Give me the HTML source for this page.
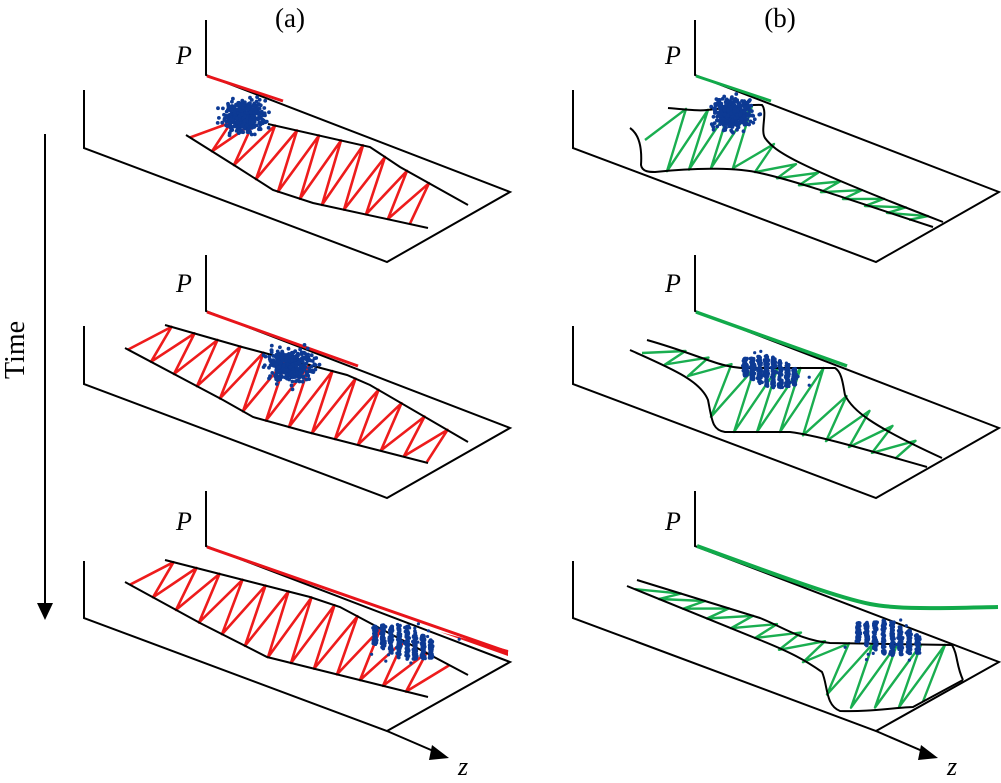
<!DOCTYPE html>
<html><head><meta charset="utf-8"><style>
html,body{margin:0;padding:0;background:#fff;}
svg{display:block}
text{font-family:"Liberation Serif",serif;fill:#000}
</style></head><body>
<svg id="s" width="1001" height="783" viewBox="0 0 1001 783" xmlns="http://www.w3.org/2000/svg">
<g fill="none" stroke="#000" stroke-width="2">
<path d="M206,20 V75 L510,192 L387,262 L84,148 V90"/>
<path d="M206,255 V311 L510,428 L387,498 L84,384 V326"/>
<path d="M206,491 V546 L510,662 L387,731 L84,618 V561"/>
<path d="M387,731 L438,753"/>
<path d="M695,20 V75 L999,192 L876,262 L573,148 V90"/>
<path d="M695,255 V311 L999,428 L876,498 L573,384 V326"/>
<path d="M695,491 V546 L999,662 L876,731 L573,618 V561"/>
<path d="M876,731 L927,753"/>
<path d="M45,134 V605"/>
</g>
<polygon points="37,603 53,603 45,620" fill="#000"/>
<polygon points="432,745 449,758 429,760" fill="#000"/>
<polygon points="921,745 938,758 918,760" fill="#000"/>
<text x="290" y="27" font-size="27" text-anchor="middle">(a)</text>
<text x="780" y="27" font-size="27" text-anchor="middle">(b)</text>
<g font-size="26" font-style="italic">
<text x="176" y="64">P</text>
<text x="176" y="292">P</text>
<text x="176" y="530">P</text>
<text x="665" y="64">P</text>
<text x="665" y="292">P</text>
<text x="665" y="530">P</text>
<text x="458" y="775">z</text>
<text x="947" y="775">z</text>
</g>
<text x="0" y="0" font-size="28" text-anchor="middle" transform="translate(24,350) rotate(-90)">Time</text>
<path d="M207,76 L283,101" stroke="#e8141a" stroke-width="3" fill="none"/>
<path d="M207,312 L358,366" stroke="#e8141a" stroke-width="3" fill="none"/>
<path d="M207,547 L508,652" stroke="#e8141a" stroke-width="3" fill="none"/>
<path d="M440,632 L508,656 L508,650 Z" fill="#e8141a"/>
<path d="M696,76 L771,101" stroke="#11aa4a" stroke-width="3" fill="none"/>
<path d="M696,312 L847,366" stroke="#11aa4a" stroke-width="3.5" fill="none"/>
<path d="M697,546 C790,580 840,598 870,604 C900,610 950,608 998,607" stroke="#11aa4a" stroke-width="4" fill="none"/>
<g id="zz"></g>
<g id="bd" fill="none" stroke="#000" stroke-width="2">
<path d="M268,124 L370,147 L400,167 L468,205"/>
<path d="M186,135 L237,167 L273,190 L313,203 L428,228"/>
<path d="M165,325 L242,347 L347,375 L370,385 L468,442"/>
<path d="M125,348 L223,400 L253,417 L307,432 L428,463"/>
<path d="M165,560 L310,597 L340,607 L370,623 L468,675"/>
<path d="M125,582 L200,623 L267,657 L428,697"/>
<path d="M668,108 C690,110 700,111 707,110 C730,108 750,104 762,105 C768,112 760,130 765,138 C775,152 795,165 943,222"/>
<path d="M630,128 C640,135 642,150 641,165 C642,172 650,172 655,172 C700,167 740,168 760,173 C800,182 850,200 933,227"/>
<path d="M647,340 C700,355 720,368 745,368 L835,368 C842,372 843,385 845,395 C852,410 870,425 942,458"/>
<path d="M630,350 C670,368 700,380 708,400 C712,420 712,430 725,432 L790,432 C820,436 860,448 927,467"/>
<path d="M637,580 L760,618 C785,628 800,640 830,643 L952,645 C958,655 956,665 963,680"/>
<path d="M627,586 L760,640 C790,652 805,660 822,672 C828,685 825,705 840,711 C870,712 890,708 913,707 L963,680"/>
</g>
<g id="dots" fill="#0d3a94"></g>
</svg>
<script>
(function(){
var NS="http://www.w3.org/2000/svg";
function interp(pts,x){
 if(x<=pts[0][0]){var a=pts[0],b=pts[1];return a[1]+(b[1]-a[1])*(x-a[0])/(b[0]-a[0]);}
 for(var i=0;i<pts.length-1;i++){var a=pts[i],b=pts[i+1];if(x<=b[0])return a[1]+(b[1]-a[1])*(x-a[0])/(b[0]-a[0]);}
 var a=pts[pts.length-2],b=pts[pts.length-1];return a[1]+(b[1]-a[1])*(x-a[0])/(b[0]-a[0]);
}
var zz=document.getElementById('zz');
function zig(top,bot,x0,x1,per,skew,col,w){
 var d="",k=0;
 for(var x=x0;x<=x1;x+=per/2){
  var xx=(k%2==0)?x:x+skew;
  var y=(k%2==0)?interp(bot,xx):interp(top,xx);
  d+=(k==0?"M":"L")+xx.toFixed(1)+","+y.toFixed(1)+" ";k++;
 }
 var p=document.createElementNS(NS,"path");p.setAttribute("d",d);p.setAttribute("stroke",col);
 p.setAttribute("stroke-width",w);p.setAttribute("fill","none");p.setAttribute("stroke-linejoin","round");zz.appendChild(p);
}
var R="#ee1c1c",G="#1aae50";
zig([[193,121],[268,124],[370,147],[400,167],[468,205]],[[186,135],[237,167],[273,190],[313,203],[440,230]],190,420,22,30,R,2.6);
zig([[130,334],[165,325],[242,347],[347,375],[370,385],[465,440]],[[125,348],[223,400],[253,417],[307,432],[460,470]],128,430,23,32,R,2.6);
zig([[140,570],[165,560],[310,597],[340,607],[370,623],[470,676]],[[125,582],[200,623],[267,657],[460,705]],130,425,23,32,R,2.6);
zig([[640,112],[668,108],[707,110],[762,105],[765,135],[793,163],[943,222]],[[645,140],[642,170],[655,172],[727,167],[760,173],[935,228]],645,915,22,30,G,2.4);
zig([[647,340],[745,368],[835,368],[845,395],[942,458]],[[640,352],[700,382],[712,420],[725,432],[790,432],[927,467]],642,905,23,32,G,2.4);
zig([[637,580],[760,618],[830,643],[952,645],[960,672]],[[627,586],[760,640],[822,672],[830,708],[913,707],[955,684]],635,925,24,34,G,2.4);
var s=12345;function rnd(){s=(s*1103515245+12345)%2147483648;return s/2147483648;}
function gauss(){return (rnd()+rnd()+rnd()+rnd()-2)/0.58;}
var dots=document.getElementById('dots');
function dot(x,y,r){var c=document.createElementNS(NS,"circle");c.setAttribute("cx",x.toFixed(1));c.setAttribute("cy",y.toFixed(1));c.setAttribute("r",r);dots.appendChild(c);}
function blob(cx,cy,sx,sy,n){for(var i=0;i<n;i++)dot(cx+gauss()*sx,cy+gauss()*sy,1.9);}
function stripes(cx,cy,n,sp,sy,slope){for(var j=0;j<n;j++){var x0=cx+(j-(n-1)/2)*sp;var h=sy*(1-Math.abs(j-(n-1)/2)/(n*0.9));for(var i=0;i<70;i++)dot(x0+gauss()*0.9,cy+(x0-cx)*slope+(rnd()-0.5)*2.6*h,1.8);}
 for(var i=0;i<14;i++)dot(cx+gauss()*n*sp/2.5,cy+gauss()*sy,1.6);}
blob(244,116,10,7.5,380);
blob(291,366,11,8,380);
stripes(403,642,8,8,14,0.25);
blob(733,114,10,8,380);
stripes(770,372,8,7,13,0.2);
stripes(888,638,8,8.5,14,0.2);
})();
</script>
</body></html>
